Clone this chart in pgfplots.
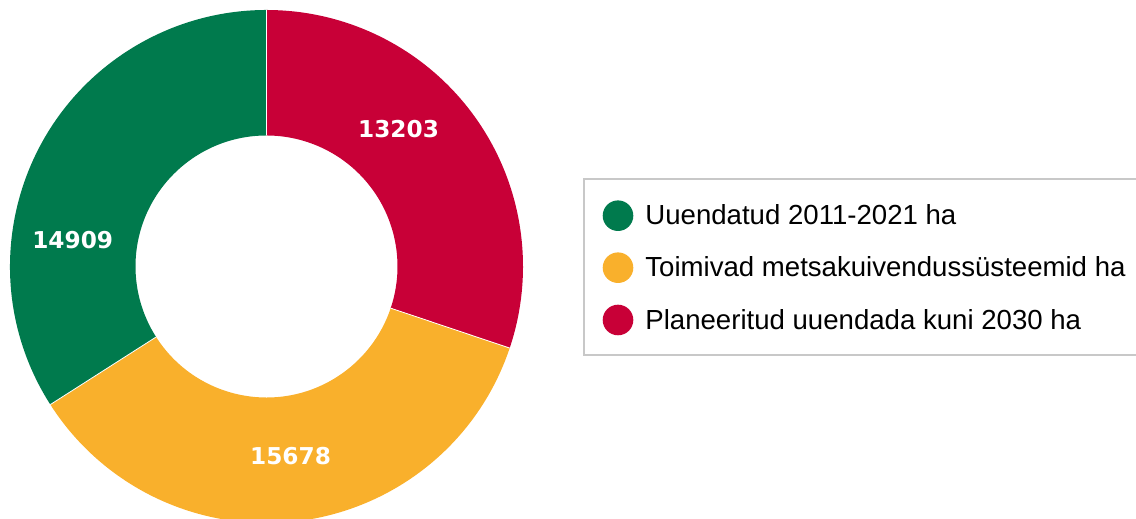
\documentclass[border=0pt]{standalone}
\usepackage{pgfplots}
\pgfplotsset{compat=1.18}
\usepackage{pgfplotstable}
\usepackage{fontspec}
\setmainfont{Liberation Sans}
\newfontfamily\labelfont{DejaVu Sans}
\definecolor{cgreen}{RGB}{0,122,77}
\definecolor{cyellow}{RGB}{249,176,44}
\definecolor{cred}{RGB}{200,0,55}
\definecolor{cborder}{RGB}{200,200,200}

\pgfplotstableread{
id value
green 14909
yellow 15678
red 13203
}\donut

\pgfplotstablegetelem{0}{value}\of\donut \let\vgreen\pgfplotsretval
\pgfplotstablegetelem{1}{value}\of\donut \let\vyellow\pgfplotsretval
\pgfplotstablegetelem{2}{value}\of\donut \let\vred\pgfplotsretval

\pgfmathsetmacro{\tot}{\vgreen/1000+\vyellow/1000+\vred/1000}
\pgfmathsetmacro{\aA}{90}
\pgfmathsetmacro{\aB}{\aA-360*(\vred/1000)/\tot}
\pgfmathsetmacro{\aC}{\aB-360*(\vyellow/1000)/\tot}
\pgfmathsetmacro{\aD}{\aC-360*(\vgreen/1000)/\tot}
\def\cx{266.5}
\def\cy{252.5}
\def\Ro{256.5}
\def\Ri{131}
\newcommand{\donutwedge}[3]{% color, start, end
  \fill[#1] (axis cs:{\cx+\Ro*cos(#2)},{\cy+\Ro*sin(#2)})
    arc[start angle=#2, end angle=#3, radius=128.25bp]
    -- (axis cs:{\cx+\Ri*cos(#3)},{\cy+\Ri*sin(#3)})
    arc[start angle=#3, end angle=#2, radius=65.5bp] -- cycle;
  \draw[white, line width=0.4bp] (axis cs:{\cx+\Ri*cos(#2)},{\cy+\Ri*sin(#2)}) -- (axis cs:{\cx+\Ro*cos(#2)},{\cy+\Ro*sin(#2)});
}
\begin{document}
\begin{tikzpicture}[x=0.5bp,y=0.5bp]
\useasboundingbox (0,0) rectangle (1136,519);
\clip (0,0) rectangle (1136,519);
\begin{axis}[at={(0,0)}, anchor=south west, x=0.5bp, y=0.5bp,
  xmin=0, xmax=1136, ymin=0, ymax=519, hide axis, clip=false]
\donutwedge{cred}{\aA}{\aB}
\donutwedge{cyellow}{\aB}{\aC}
\donutwedge{cgreen}{\aC}{\aD}
\draw[white, line width=0.4bp] (axis cs:{\cx},{\cy+\Ri}) -- (axis cs:{\cx},{\cy+\Ro});
% value labels
\node[text=white, inner sep=0, font=\labelfont\bfseries\fontsize{11.65}{14}\selectfont] at (axis cs:398.5,390) {13203};
\node[text=white, inner sep=0, font=\labelfont\bfseries\fontsize{11.65}{14}\selectfont] at (axis cs:72.7,279) {14909};
\node[text=white, inner sep=0, font=\labelfont\bfseries\fontsize{11.65}{14}\selectfont] at (axis cs:290.5,62.5) {15678};
% legend
\draw[cborder, line width=1bp] (axis cs:584,164) rectangle (axis cs:1160,340);
\fill[cgreen] (axis cs:618,303.3) circle[radius=7.65bp];
\fill[cyellow] (axis cs:618,251.3) circle[radius=7.65bp];
\fill[cred] (axis cs:618,199) circle[radius=7.65bp];
\node[anchor=base west, inner sep=0, font=\fontsize{13.85}{16}\selectfont] at (axis cs:645,294) {Uuendatud 2011-2021 ha};
\node[anchor=base west, inner sep=0, font=\fontsize{13.85}{16}\selectfont] at (axis cs:645,242) {Toimivad metsakuivendussüsteemid ha};
\node[anchor=base west, inner sep=0, font=\fontsize{13.85}{16}\selectfont] at (axis cs:645,189.5) {Planeeritud uuendada kuni 2030 ha};
\end{axis}
\end{tikzpicture}
\end{document}
